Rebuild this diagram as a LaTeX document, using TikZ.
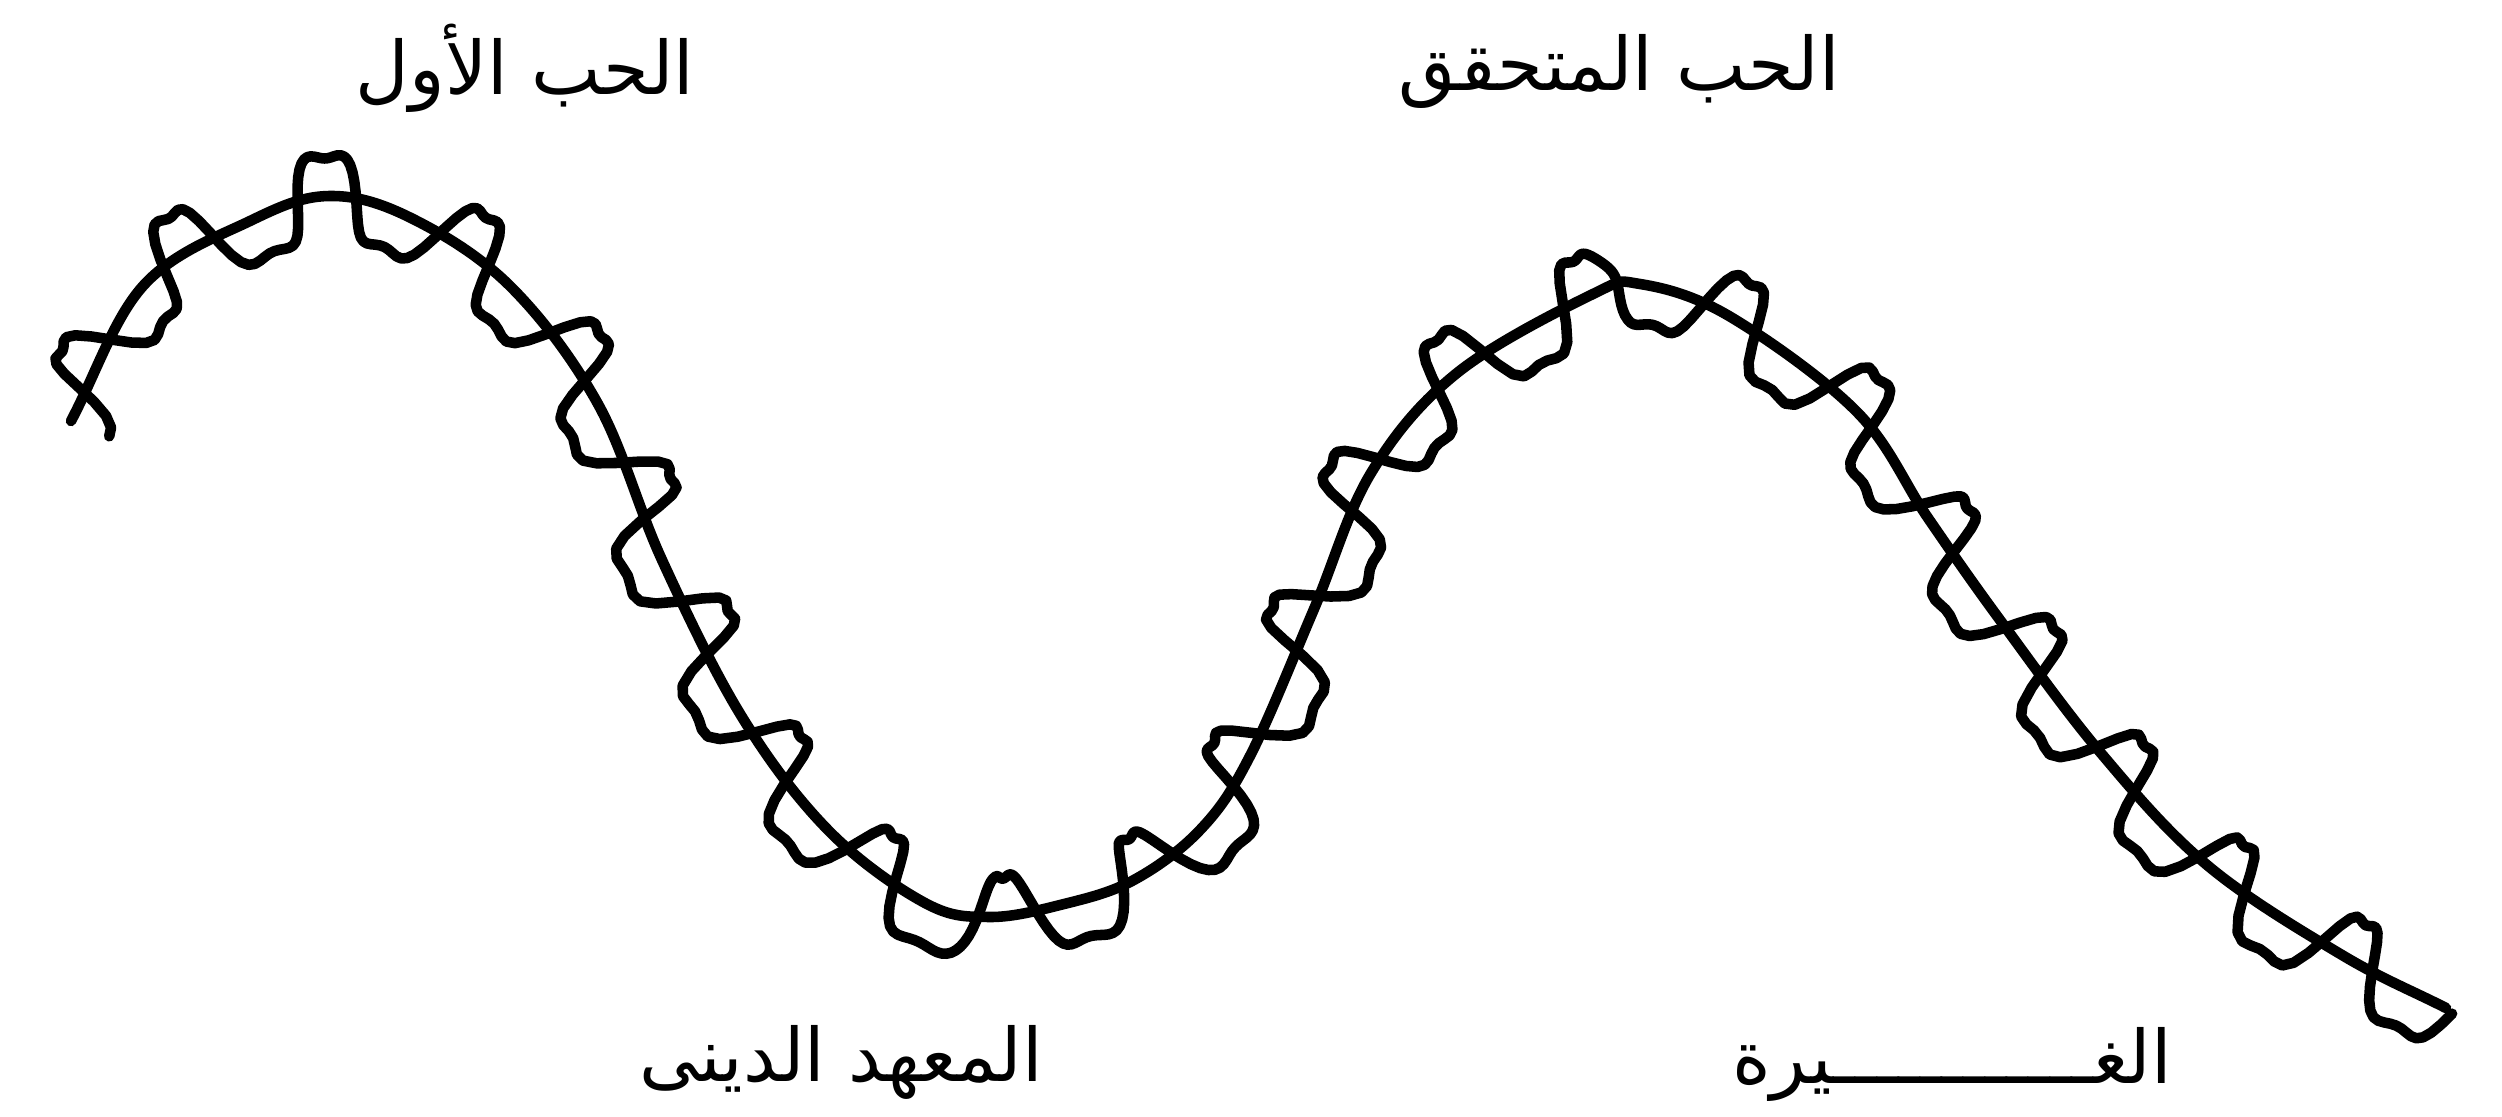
\documentclass[tikz,border=0pt]{standalone}
\usepackage{fontspec}
\newfontfamily\arabicfont[Script=Arabic]{DejaVu Sans}
\TeXXeTstate=1
\definecolor{SketchInk}{HTML}{000000}
% guide points of the wave (padded with one phantom point at each end)
\def\wavex{{-0.01,0.71,1.43,2.50,3.29,4.11,5.10,5.98,6.62,7.42,8.29,9.25,9.89,10.60,11.32,12.00,12.50,13.14,13.71,14.57,15.93,16.40,17.29,18.57,19.28,20.00,21.00,22.07,23.42,24.46,25.50}}
\def\wavey{{5.56,4.21,2.86,2.21,1.96,2.18,2.86,4.04,5.60,7.17,8.31,9.03,9.17,9.05,8.81,8.30,7.56,6.09,4.73,3.73,2.94,2.84,3.16,4.12,5.18,6.20,7.52,8.65,9.55,10.08,10.61}}
\newcommand\coilamp{0.47}
\newcommand\coilslant{0.08}
\newcommand\coilstep{1.5}
\newcommand\coilphase{-56}
\tikzset{
  every node/.style={font=\arabicfont\fontsize{21}{25}\selectfont, text=SketchInk},
  strand/.style={draw=SketchInk, line width=3pt, line cap=round, line join=round},
  caption/.style={anchor=base, inner sep=0pt},
}

\begin{document}
\begin{tikzpicture}[y=-1cm]
  \useasboundingbox (0,0) rectangle (25.02,11.17);
  % Sample the wave and the coil wound round it
  \gdef\arcs{0}\gdef\lastx{0.71}\gdef\lasty{4.21}
  \foreach \n in {0,...,672} {
    \pgfmathtruncatemacro\seg{min(floor(\n/24),27)+1}
    \pgfmathtruncatemacro\segm{\seg-1}
    \pgfmathtruncatemacro\segp{\seg+1}
    \pgfmathtruncatemacro\segpp{\seg+2}
    \pgfmathsetmacro\tpar{(\n-24*(\seg-1))/24}
    \pgfmathsetmacro\xo{\wavex[\segm]}\pgfmathsetmacro\yo{\wavey[\segm]}
    \pgfmathsetmacro\xa{\wavex[\seg]}\pgfmathsetmacro\ya{\wavey[\seg]}
    \pgfmathsetmacro\xb{\wavex[\segp]}\pgfmathsetmacro\yb{\wavey[\segp]}
    \pgfmathsetmacro\xc{\wavex[\segpp]}\pgfmathsetmacro\yc{\wavey[\segpp]}
    \pgfmathsetmacro\mxa{((\xb)-(\xo))/2}\pgfmathsetmacro\mya{((\yb)-(\yo))/2}
    \pgfmathsetmacro\mxb{((\xc)-(\xa))/2}\pgfmathsetmacro\myb{((\yc)-(\ya))/2}
    \pgfmathsetmacro\ha{2*\tpar^3-3*\tpar^2+1}
    \pgfmathsetmacro\hb{\tpar^3-2*\tpar^2+\tpar}
    \pgfmathsetmacro\hc{-2*\tpar^3+3*\tpar^2}
    \pgfmathsetmacro\hd{\tpar^3-\tpar^2}
    \pgfmathsetmacro\da{6*\tpar^2-6*\tpar}
    \pgfmathsetmacro\db{3*\tpar^2-4*\tpar+1}
    \pgfmathsetmacro\dc{-6*\tpar^2+6*\tpar}
    \pgfmathsetmacro\dd{3*\tpar^2-2*\tpar}
    \pgfmathsetmacro\cx{(\ha)*(\xa)+(\hb)*(\mxa)+(\hc)*(\xb)+(\hd)*(\mxb)}
    \pgfmathsetmacro\cy{(\ha)*(\ya)+(\hb)*(\mya)+(\hc)*(\yb)+(\hd)*(\myb)}
    \pgfmathsetmacro\dx{(\da)*(\xa)+(\db)*(\mxa)+(\dc)*(\xb)+(\dd)*(\mxb)}
    \pgfmathsetmacro\dy{(\da)*(\ya)+(\db)*(\mya)+(\dc)*(\yb)+(\dd)*(\myb)}
    \pgfmathsetmacro\len{veclen(\dx,\dy)}
    \pgfmathsetmacro\tx{(\dx)/(\len)}
    \pgfmathsetmacro\ty{(\dy)/(\len)}
    \pgfmathsetmacro\snew{\arcs+veclen((\cx)-(\lastx),(\cy)-(\lasty))}
    \xdef\arcs{\snew}\xdef\lastx{\cx}\xdef\lasty{\cy}
    \pgfmathsetmacro\ang{mod(360*\snew/\coilstep+(\coilphase),360)}
    % rounder lobes: a little third harmonic
    \pgfmathsetmacro\bulge{sin(\ang)+0.2*sin(3*(\ang))}
    \pgfmathsetmacro\qx{(\cx)+\coilamp*(\bulge)*(\ty)+\coilslant*cos(\ang)*(\tx)}
    \pgfmathsetmacro\qy{(\cy)-\coilamp*(\bulge)*(\tx)+\coilslant*cos(\ang)*(\ty)}
    \coordinate (w-\n) at (\cx,\cy);
    \coordinate (c-\n) at (\qx,\qy);
  }
  % Main wave
  \draw[strand] (w-0) \foreach \n in {1,...,672} { -- (w-\n) };
  % Coil
  \draw[strand] (c-0) \foreach \n in {1,...,672} { -- (c-\n) };
  % Labels above the crests
  \node[caption] (firstlove) at (5.25,0.95) {\beginR الحب الأول\endR};
  \node[caption] (reallove) at (16.19,0.90) {\beginR الحب المتحقق\endR};
  % Labels below the wave
  \node[caption] (institute) at (8.41,10.81) {\beginR المعهد الدينى\endR};
  \node[caption] (jealousy) at (19.52,10.83) {\beginR الغــــــــــــيرة\endR};
\end{tikzpicture}
\end{document}
